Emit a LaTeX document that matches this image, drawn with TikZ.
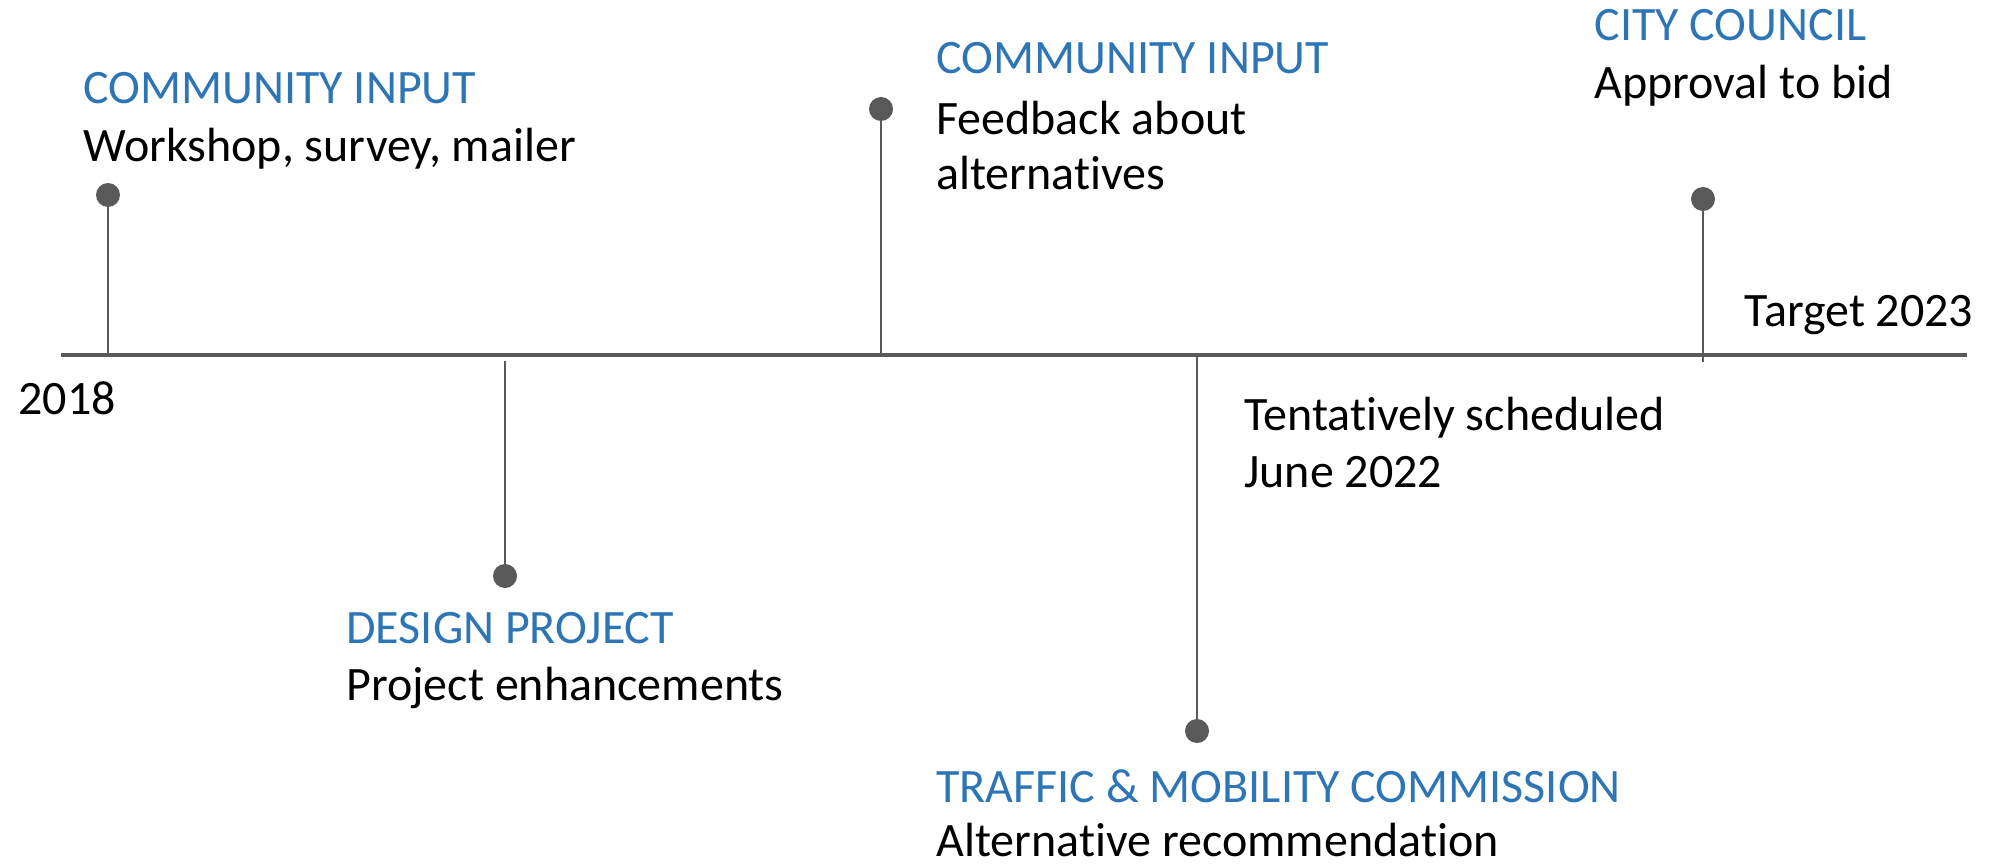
\documentclass[tikz,border=0pt]{standalone}
\usepackage{fontspec}
\setmainfont[Ligatures=NoCommon]{Carlito}
\newcommand{\nl}{\kern0pt }
\definecolor{tlblue}{HTML}{2E75B6}
\definecolor{tlgray}{HTML}{595959}
\begin{document}
\begin{tikzpicture}[x=0.5pt,y=-0.5pt,
  axisline/.style={draw=tlgray,line width=1.6pt},
  stemline/.style={draw=tlgray,line width=1.4pt},
  dotmark/.style={circle,fill=tlgray,inner sep=0pt,minimum size=12pt},
  ttl/.style={anchor=base west,inner sep=0pt,text=tlblue,font=\fontsize{24}{28}\selectfont},
  dsc/.style={anchor=base west,inner sep=0pt,text=black,font=\fontsize{24}{28}\selectfont}]
\path[use as bounding box] (0,0) rectangle (1996,866);
% axis
\coordinate (axL) at (61,355);
\coordinate (axR) at (1967,355);
\draw[axisline] (axL) -- (axR);
% stem coordinates on axis
\coordinate (b1) at (108,355);
\coordinate (b2) at (505,361);
\coordinate (b3) at (881,355);
\coordinate (b4) at (1197,355);
\coordinate (b5) at (1703,362);
% dots
\node[dotmark] (d1) at (108,195) {};
\node[dotmark] (d2) at (505,576) {};
\node[dotmark] (d3) at (881,109) {};
\node[dotmark] (d4) at (1197,731) {};
\node[dotmark] (d5) at (1703,199) {};
\draw[stemline] (d1.center) -- (b1);
\draw[stemline] (d2.center) -- (b2);
\draw[stemline] (d3.center) -- (b3);
\draw[stemline] (d4.center) -- (b4);
\draw[stemline] (d5.center) -- (b5);
% texts
\node[ttl] (t1) at (83,104) {COMMUNITY INPUT};
\node[dsc] (s1) at (83,162) {Workshop, survey, mailer};
\node[dsc] (y1) at (18,414) {2018};
\node[ttl] (t2) at (346,643) {DESIGN PROJECT};
\node[dsc] (s2) at (346,700) {Project enhancements};
\node[ttl] (t3) at (936,74) {COMMUNITY INPUT};
\node[dsc] (s3a) at (936,135) {Feedback about};
\node[dsc] (s3b) at (936,190) {alternat\nl ives};
\node[dsc] (n4a) at (1244,430) {Tentat\nl ively scheduled};
\node[dsc] (n4b) at (1244,487) {June 2022};
\node[ttl] (t4) at (936,802) {TRAFFIC \& MOBILITY COMMISSION};
\node[dsc] (s4) at (936,856) {Alternat\nl ive recommendat\nl ion};
\node[ttl] (t5) at (1594,41) {CITY COUNCIL};
\node[dsc] (s5) at (1594,99) {Approval to bid};
\node[dsc] (y5) at (1744,326) {Target 2023};
\end{tikzpicture}
\end{document}
